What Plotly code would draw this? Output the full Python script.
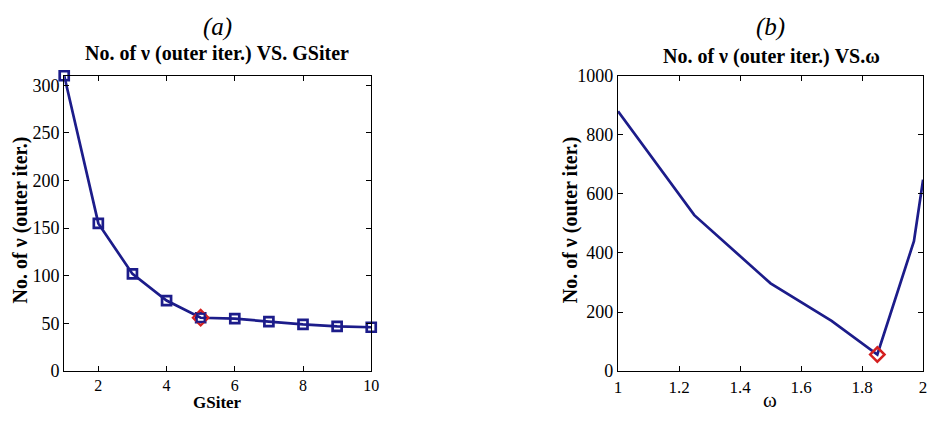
import plotly.graph_objects as go

# Panel (a): outer iterations vs GSiter
gs_iter = [1, 2, 3, 4, 5, 6, 7, 8, 9, 10]
outer_a = [310, 155, 102, 74, 56, 55, 52, 49, 47, 46]
opt_a_x = [5]
opt_a_y = [56]

# Panel (b): outer iterations vs omega
omega = [1.0, 1.25, 1.5, 1.7, 1.85, 1.97, 2.0]
outer_b = [880, 528, 297, 170, 56, 440, 648]
opt_b_x = [1.85]
opt_b_y = [56]

W, H = 938, 423
BLUE = "#1c1c8a"
RED = "#d42020"
SERIF = "Liberation Serif, Times New Roman, serif"

fig = go.Figure()

fig.add_trace(go.Scatter(x=gs_iter, y=outer_a, mode="lines+markers",
                         line=dict(color=BLUE, width=2.7),
                         marker=dict(symbol="square-open", size=9, color=BLUE, line=dict(width=2.7)),
                         xaxis="x", yaxis="y", showlegend=False, cliponaxis=False))
fig.add_trace(go.Scatter(x=opt_a_x, y=opt_a_y, mode="markers",
                         marker=dict(symbol="diamond-open", size=12, color=RED, line=dict(width=2.2)),
                         xaxis="x", yaxis="y", showlegend=False))
fig.add_trace(go.Scatter(x=opt_a_x, y=opt_a_y, mode="markers",
                         marker=dict(symbol="square-open", size=8, color=BLUE, line=dict(width=2)),
                         xaxis="x", yaxis="y", showlegend=False))

fig.add_trace(go.Scatter(x=omega, y=outer_b, mode="lines",
                         line=dict(color=BLUE, width=2.7),
                         xaxis="x2", yaxis="y2", showlegend=False))
fig.add_trace(go.Scatter(x=opt_b_x, y=opt_b_y, mode="markers",
                         marker=dict(symbol="diamond-open", size=11, color=RED, line=dict(width=2.5)),
                         xaxis="x2", yaxis="y2", showlegend=False))

def px_x(p):
    return p / W

def px_y(p):
    return 1 - p / H

def axis_style(size):
    return dict(showline=True, linecolor="black", linewidth=1.2, mirror="ticks",
                ticks="inside", ticklen=5, tickcolor="black", showgrid=False, zeroline=False,
                tickfont=dict(family=SERIF, size=size, color="black"))

yd = [px_y(379), px_y(69)]

fig.update_layout(
    width=W, height=H, margin=dict(l=0, r=0, t=0, b=0),
    paper_bgcolor="white", plot_bgcolor="white",
    xaxis=dict(domain=[px_x(61), px_x(372)], range=[1, 10], tickvals=[2, 4, 6, 8, 10],
               anchor="y", **axis_style(16)),
    yaxis=dict(domain=yd, range=[0, 310], tickvals=[0, 50, 100, 150, 200, 250, 300],
               anchor="x", **axis_style(18)),
    xaxis2=dict(domain=[px_x(622), px_x(931)], range=[1, 2],
                tickvals=[1, 1.2, 1.4, 1.6, 1.8, 2], ticktext=["1", "1.2", "1.4", "1.6", "1.8", "2"],
                anchor="y2", **axis_style(17)),
    yaxis2=dict(domain=yd, range=[0, 1000], tickvals=[0, 200, 400, 600, 800, 1000],
                anchor="x2", **axis_style(18)),
)

ann = []
def add(text, x, y, size, bold=False, italic=False, angle=0, yanchor="middle"):
    t = text
    if bold:
        t = "<b>" + t + "</b>"
    if italic:
        t = "<i>" + t + "</i>"
    ann.append(dict(text=t, x=px_x(x), y=px_y(y), xref="paper", yref="paper",
                    showarrow=False, xanchor="center", yanchor=yanchor, textangle=angle,
                    borderpad=0,
                    font=dict(family=SERIF, size=size, color="black")))

add("(a)", 216, 18, 25, italic=True)
add("No. of ν (outer iter.) VS. GSiter", 216, 46, 20, bold=True)
add("GSiter", 216, 423, 17, bold=True, yanchor="bottom")
add("No. of ν (outer iter.)", 17, 220, 20, bold=True, angle=-90)

add("(b)", 776, 18, 25, italic=True)
add("No. of ν (outer iter.) VS.ω", 777, 49, 20, bold=True)
add("ω", 776, 423, 21, yanchor="bottom")
add("No. of ν (outer iter.)", 574, 220, 20, bold=True, angle=-90)

fig.update_layout(annotations=ann)

fig.write_html("out.html")
